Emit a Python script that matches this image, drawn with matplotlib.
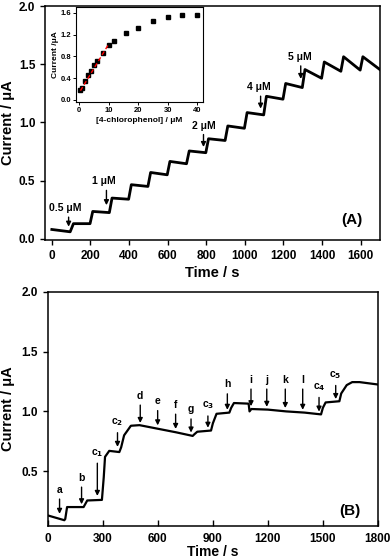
import matplotlib
matplotlib.use("Agg")
import matplotlib.pyplot as plt
import numpy as np

plt.rcParams['font.family'] = ['Liberation Sans', 'DejaVu Sans']
plt.rcParams['font.weight'] = 'bold'

# ---------------- Panel A data ----------------
# initial baseline segment
a_base_t = [0, 95]
a_base_i = [0.08, 0.06]
# injection times and plateau start/end levels (µA)
a_step_t = [100, 200, 300, 400, 500, 600, 700, 800, 900, 1000, 1100, 1200, 1300, 1400, 1500, 1600]
a_start = [0.13, 0.235, 0.35, 0.465, 0.57, 0.665, 0.755, 0.86, 0.97, 1.085, 1.225, 1.335, 1.455, 1.52, 1.565, 1.565]
a_end = [0.13, 0.225, 0.34, 0.45, 0.55, 0.645, 0.74, 0.845, 0.95, 1.065, 1.20, 1.30, 1.38, 1.44, 1.45, 1.455]
a_t_end = 1700

a_labels = ["0.5 \u03bcM", "1 \u03bcM", "2 \u03bcM", "4 \u03bcM", "5 \u03bcM"]
a_arrow_x = [87, 283, 786, 1082, 1290]
a_arrow_tip = [0.08, 0.265, 0.765, 1.095, 1.35]
a_arrow_top = [0.21, 0.44, 0.92, 1.25, 1.51]
a_label_x = [71, 270, 786, 1075, 1285]
a_label_y = [0.22, 0.45, 0.93, 1.26, 1.52]

# inset calibration
conc = [0.5, 1, 2, 3, 4, 5, 6, 8, 10, 12, 16, 20, 25, 30, 35, 40]
cal_i = [0.18, 0.22, 0.35, 0.45, 0.53, 0.64, 0.72, 0.86, 1.00, 1.08, 1.23, 1.32, 1.45, 1.53, 1.55, 1.55]
fit_x = [0.5, 10]
fit_y = [0.17, 1.02]

# ---------------- Panel B data ----------------
b_t = [0, 90, 95, 105, 195, 215, 295, 305, 312, 335, 390, 400, 416, 453, 500, 600, 700, 790,
       800, 815, 890, 900, 920, 990, 1000, 1015, 1095, 1100, 1110, 1200, 1300, 1400, 1490,
       1500, 1515, 1590, 1600, 1630, 1660, 1700, 1800]
b_i = [0.13, 0.09, 0.10, 0.20, 0.20, 0.255, 0.26, 0.45, 0.62, 0.67, 0.66, 0.70, 0.80, 0.88, 0.885,
       0.855, 0.825, 0.795, 0.81, 0.83, 0.84, 0.90, 0.98, 0.99, 1.03, 1.07, 1.065, 1.00, 1.02,
       1.015, 1.00, 0.99, 0.975, 1.03, 1.075, 1.085, 1.15, 1.22, 1.245, 1.245, 1.225]

b_labels = ["a", "b", "c$_1$", "c$_2$", "d", "e", "f", "g", "c$_3$", "h", "i", "j", "k", "l", "c$_4$", "c$_5$"]
b_arrow_x = [64, 184, 270, 380, 504, 599, 697, 781, 873, 979, 1108, 1194, 1295, 1390, 1479, 1570]
b_arrow_tip = [0.12, 0.20, 0.27, 0.68, 0.88, 0.86, 0.83, 0.80, 0.84, 0.99, 1.02, 1.015, 1.005, 0.99, 0.975, 1.08]
b_arrow_top = [0.29, 0.39, 0.59, 0.845, 1.076, 1.03, 1.00, 0.96, 0.985, 1.17, 1.21, 1.21, 1.21, 1.21, 1.14, 1.24]
b_label_y = [0.30, 0.40, 0.60, 0.86, 1.09, 1.045, 1.015, 0.975, 1.00, 1.185, 1.225, 1.225, 1.225, 1.225, 1.155, 1.255]

# ---------------- build figure ----------------
fig = plt.figure(figsize=(3.92, 5.58), dpi=100)

def style_axes(ax, fs):
    for s in ax.spines.values():
        s.set_linewidth(1.1)
    ax.tick_params(direction='out', length=3.5, width=1.0, labelsize=fs)
    for lab in ax.get_xticklabels() + ax.get_yticklabels():
        lab.set_fontweight('bold')

# Panel A
axA = fig.add_axes([0.115, 0.570, 0.854, 0.419])
ta, ia = list(a_base_t), list(a_base_i)
for k, t in enumerate(a_step_t):
    t_next = a_step_t[k + 1] if k + 1 < len(a_step_t) else a_t_end
    ta += [t + 12, t_next - 2 if k + 1 < len(a_step_t) else t_next]
    ia += [a_start[k], a_end[k]]
axA.plot(ta, ia, color='black', lw=2.0, solid_joinstyle='round')
axA.set_xlim(-35, 1700)
axA.set_ylim(-0.01, 2.0)
axA.set_xticks(np.arange(0, 1601, 200))
axA.set_yticks([0.0, 0.5, 1.0, 1.5, 2.0])
axA.set_yticklabels(['0.0', '0.5', '1.0', '1.5', '2.0'])
style_axes(axA, 8.5)
axA.set_xlabel('Time / s', fontsize=10.5, fontweight='bold', labelpad=3)
axA.set_ylabel('Current / \u03bcA', fontsize=10.5, fontweight='bold', labelpad=3)
for x, tip, top, lx, ly, lab in zip(a_arrow_x, a_arrow_tip, a_arrow_top, a_label_x, a_label_y, a_labels):
    axA.annotate('', xy=(x, tip), xytext=(x, top),
                 arrowprops=dict(arrowstyle='-|>', color='black', lw=1.0, mutation_scale=7))
    axA.text(lx, ly, lab, ha='center', va='bottom', fontsize=7.5, fontweight='bold')
axA.text(1556, 0.165, '(A)', ha='center', va='center', fontsize=11, fontweight='bold')

# Inset
axI = fig.add_axes([0.194, 0.817, 0.324, 0.170])
axI.plot(conc, cal_i, 's', color='black', markersize=3)
axI.plot(fit_x, fit_y, color='red', lw=1.0, ls=(0, (3, 2)))
axI.set_xlim(-1, 42)
axI.set_ylim(-0.04, 1.7)
axI.set_xticks([0, 10, 20, 30, 40])
axI.set_yticks([0.0, 0.4, 0.8, 1.2, 1.6])
axI.set_yticklabels(['0.0', '0.4', '0.8', '1.2', '1.6'])
style_axes(axI, 5.5)
for s in axI.spines.values():
    s.set_linewidth(0.8)
axI.tick_params(length=2, width=0.7, pad=1.5)
axI.set_xlabel('[4-chlorophenol] / \u03bcM', fontsize=6, fontweight='bold', labelpad=2)
axI.set_ylabel('Current /\u03bcA', fontsize=6, fontweight='bold', labelpad=1)

# Panel B
axB = fig.add_axes([0.122, 0.057, 0.842, 0.420])
axB.plot(b_t, b_i, color='black', lw=1.6, solid_joinstyle='round')
axB.set_xlim(0, 1800)
axB.set_ylim(0.04, 2.0)
axB.set_xticks(np.arange(0, 1801, 300))
axB.set_yticks([0.5, 1.0, 1.5, 2.0])
axB.set_yticklabels(['0.5', '1.0', '1.5', '2.0'])
style_axes(axB, 8.5)
axB.tick_params(axis='x', direction='in', length=4, pad=5)
axB.set_ylabel('Current / \u03bcA', fontsize=10.5, fontweight='bold', labelpad=5)
fig.text(0.543, 2.5 / 558, 'Time / s', ha='center', va='baseline', fontsize=10, fontweight='bold')
for x, tip, top, ly, lab in zip(b_arrow_x, b_arrow_tip, b_arrow_top, b_label_y, b_labels):
    axB.annotate('', xy=(x, tip), xytext=(x, top),
                 arrowprops=dict(arrowstyle='-|>', color='black', lw=1.0, mutation_scale=7))
    axB.text(x, ly, lab, ha='center', va='bottom', fontsize=7.5, fontweight='bold')
axB.text(1649, 0.17, '(B)', ha='center', va='center', fontsize=11, fontweight='bold')

fig.savefig('out.png', dpi=100)
